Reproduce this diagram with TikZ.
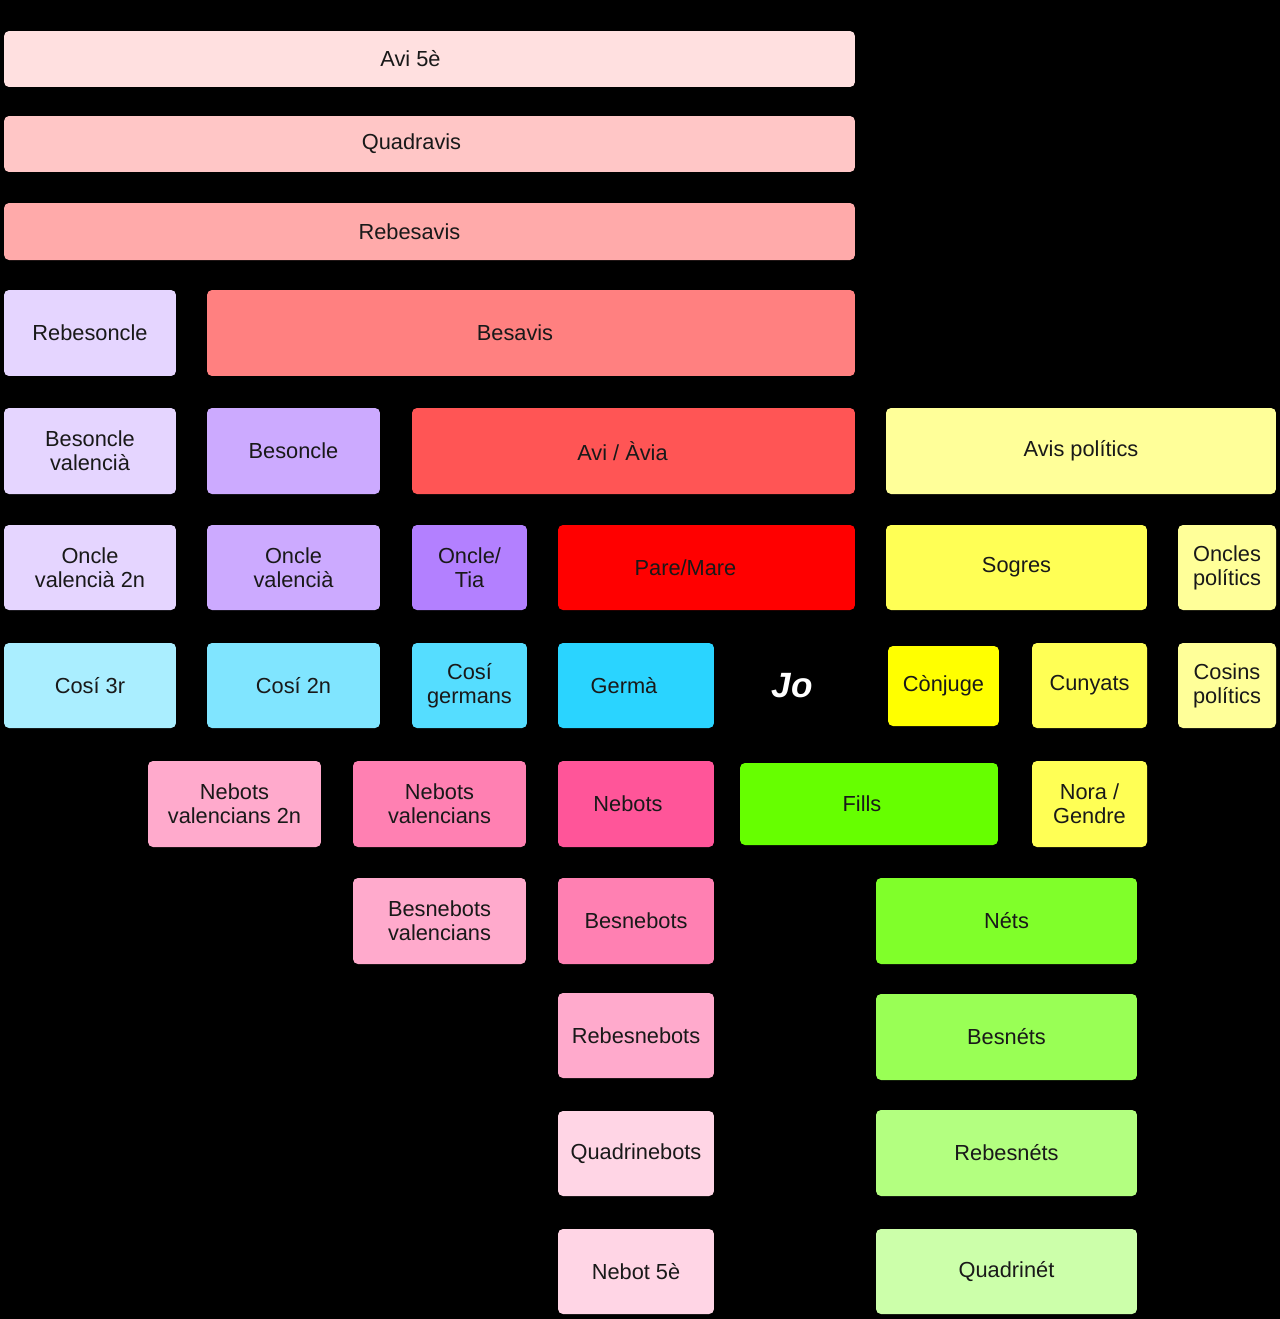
\documentclass[tikz,border=0pt]{standalone}
\usepackage{fontspec}
\setmainfont{Liberation Sans}
\usepackage{tikz}
\definecolor{avifive}{HTML}{FFE0E0}
\definecolor{quadra}{HTML}{FFC6C6}
\definecolor{rebes}{HTML}{FFAAAA}
\definecolor{besa}{HTML}{FF8080}
\definecolor{avia}{HTML}{FF5555}
\definecolor{pare}{HTML}{FF0000}
\definecolor{lilaA}{HTML}{E5D5FF}
\definecolor{lilaB}{HTML}{CCAAFF}
\definecolor{lilaC}{HTML}{B380FF}
\definecolor{cyanA}{HTML}{AAEEFF}
\definecolor{cyanB}{HTML}{80E5FF}
\definecolor{cyanC}{HTML}{55DDFF}
\definecolor{cyanD}{HTML}{2AD4FF}
\definecolor{grocA}{HTML}{FFFF99}
\definecolor{grocB}{HTML}{FFFF55}
\definecolor{grocC}{HTML}{FFFF00}
\definecolor{rosaA}{HTML}{FFD5E5}
\definecolor{rosaB}{HTML}{FFAACC}
\definecolor{rosaC}{HTML}{FF80B2}
\definecolor{rosaD}{HTML}{FF5599}
\definecolor{verdA}{HTML}{CCFFAA}
\definecolor{verdB}{HTML}{B3FF80}
\definecolor{verdC}{HTML}{99FF55}
\definecolor{verdD}{HTML}{80FF2A}
\definecolor{verdE}{HTML}{66FF00}
\tikzset{kin/.style = {rounded corners = 2.8pt, inner sep = 0, align = center,
    text = black!90, font = \fontsize{12.4}{13.6}\selectfont}}

\begin{document}
\begin{tikzpicture}[x = 0.02cm, y = -0.02cm]
      \fill [black] (0, 0) rectangle (1280, 1319);
      % avantpassats
      \node [kin, fill=avifive, minimum width=17.02cm, minimum height=1.12cm] (avifive) at (429.5, 59) {Avi 5è\hspace*{0.76cm}};
      \node [kin, fill=quadra, minimum width=17.02cm, minimum height=1.12cm] (quadravis) at (429.5, 144) {Quadravis\hspace*{0.72cm}};
      \node [kin, fill=rebes, minimum width=17.02cm, minimum height=1.14cm] (rebesavis) at (429.5, 231.5) {Rebesavis\hspace*{0.8cm}};
      \node [kin, fill=lilaA, minimum width=3.44cm, minimum height=1.72cm] (rebesoncle) at (90, 333) {Rebesoncle};
      \node [kin, fill=besa, minimum width=12.96cm, minimum height=1.72cm] (besavis) at (531, 333) {Besavis\hspace*{0.64cm}};
      \node [kin, fill=lilaA, minimum width=3.44cm, minimum height=1.72cm] (besonclev) at (90, 451) {Besoncle\\valencià};
      \node [kin, fill=lilaB, minimum width=3.46cm, minimum height=1.72cm] (besoncle) at (293.5, 451) {Besoncle};
      \node [kin, fill=avia, minimum width=8.86cm, minimum height=1.72cm] (avi) at (633.5, 451) {Avi / Àvia\hspace*{0.44cm}};
      \node [kin, fill=grocA, minimum width=7.8cm, minimum height=1.72cm] (avispol) at (1081, 451) {Avis polítics};
      % pares i oncles
      \node [kin, fill=lilaA, minimum width=3.44cm, minimum height=1.7cm] (onclevtwo) at (90, 567.5) {Oncle\\valencià 2n};
      \node [kin, fill=lilaB, minimum width=3.46cm, minimum height=1.7cm] (onclev) at (293.5, 567.5) {Oncle\\valencià};
      \node [kin, fill=lilaC, minimum width=2.3cm, minimum height=1.7cm] (oncle) at (469.5, 567.5) {Oncle/\\Tia};
      \node [kin, fill=pare, minimum width=5.94cm, minimum height=1.7cm] (pare) at (706.5, 567.5) {Pare/Mare\hspace*{0.84cm}};
      \node [kin, fill=grocB, minimum width=5.22cm, minimum height=1.7cm] (sogres) at (1016.5, 567.5) {Sogres};
      \node [kin, fill=grocA, minimum width=1.96cm, minimum height=1.7cm] (onclespol) at (1227, 567.5) {Oncles\\polítics};
      % generacio propia
      \node [kin, fill=cyanA, minimum width=3.44cm, minimum height=1.7cm] (cosithree) at (90, 685.5) {Cosí 3r};
      \node [kin, fill=cyanB, minimum width=3.46cm, minimum height=1.7cm] (cositwo) at (293.5, 685.5) {Cosí 2n};
      \node [kin, fill=cyanC, minimum width=2.3cm, minimum height=1.7cm] (cosig) at (469.5, 685.5) {Cosí\\germans};
      \node [kin, fill=cyanD, minimum width=3.12cm, minimum height=1.7cm] (germa) at (636, 685.5) {Germà\hspace*{0.48cm}};
      \node [text=white, font=\fontsize{20}{24}\selectfont\bfseries\itshape] (jo) at (792, 686) {Jo};
      \node [kin, fill=grocC, minimum width=2.22cm, minimum height=1.6cm] (conjuge) at (943.5, 686) {Cònjuge};
      \node [kin, fill=grocB, minimum width=2.3cm, minimum height=1.7cm] (cunyats) at (1089.5, 685.5) {Cunyats};
      \node [kin, fill=grocA, minimum width=1.96cm, minimum height=1.7cm] (cosinspol) at (1227, 685.5) {Cosins\\polítics};
      % descendents
      \node [kin, fill=rosaB, minimum width=3.46cm, minimum height=1.72cm] (nebvtwo) at (234.5, 804) {Nebots\\valencians 2n};
      \node [kin, fill=rosaC, minimum width=3.46cm, minimum height=1.72cm] (nebv) at (439.5, 804) {Nebots\\valencians};
      \node [kin, fill=rosaD, minimum width=3.12cm, minimum height=1.72cm] (nebots) at (636, 804) {Nebots\hspace*{0.32cm}};
      \node [kin, fill=verdE, minimum width=5.16cm, minimum height=1.64cm] (fills) at (869, 804) {Fills\hspace*{0.28cm}};
      \node [kin, fill=grocB, minimum width=2.3cm, minimum height=1.72cm] (nora) at (1089.5, 804) {Nora /\\Gendre};
      \node [kin, fill=rosaB, minimum width=3.46cm, minimum height=1.72cm] (besnebv) at (439.5, 921) {Besnebots\\valencians};
      \node [kin, fill=rosaC, minimum width=3.12cm, minimum height=1.72cm] (besnebots) at (636, 921) {Besnebots};
      \node [kin, fill=verdD, minimum width=5.22cm, minimum height=1.72cm] (nets) at (1006.5, 921) {Néts};
      \node [kin, fill=rosaB, minimum width=3.12cm, minimum height=1.7cm] (rebesnebots) at (636, 1035.5) {Rebesnebots};
      \node [kin, fill=verdC, minimum width=5.22cm, minimum height=1.72cm] (besnets) at (1006.5, 1037) {Besnéts};
      \node [kin, fill=rosaA, minimum width=3.12cm, minimum height=1.7cm] (quadrinebots) at (636, 1153.5) {Quadrinebots};
      \node [kin, fill=verdB, minimum width=5.22cm, minimum height=1.72cm] (rebesnets) at (1006.5, 1153) {Rebesnéts};
      \node [kin, fill=rosaA, minimum width=3.12cm, minimum height=1.7cm] (nebotfive) at (636, 1271.5) {Nebot 5è};
      \node [kin, fill=verdA, minimum width=5.22cm, minimum height=1.7cm] (quadrinet) at (1006.5, 1271.5) {Quadrinét};
    \end{tikzpicture}
\end{document}
